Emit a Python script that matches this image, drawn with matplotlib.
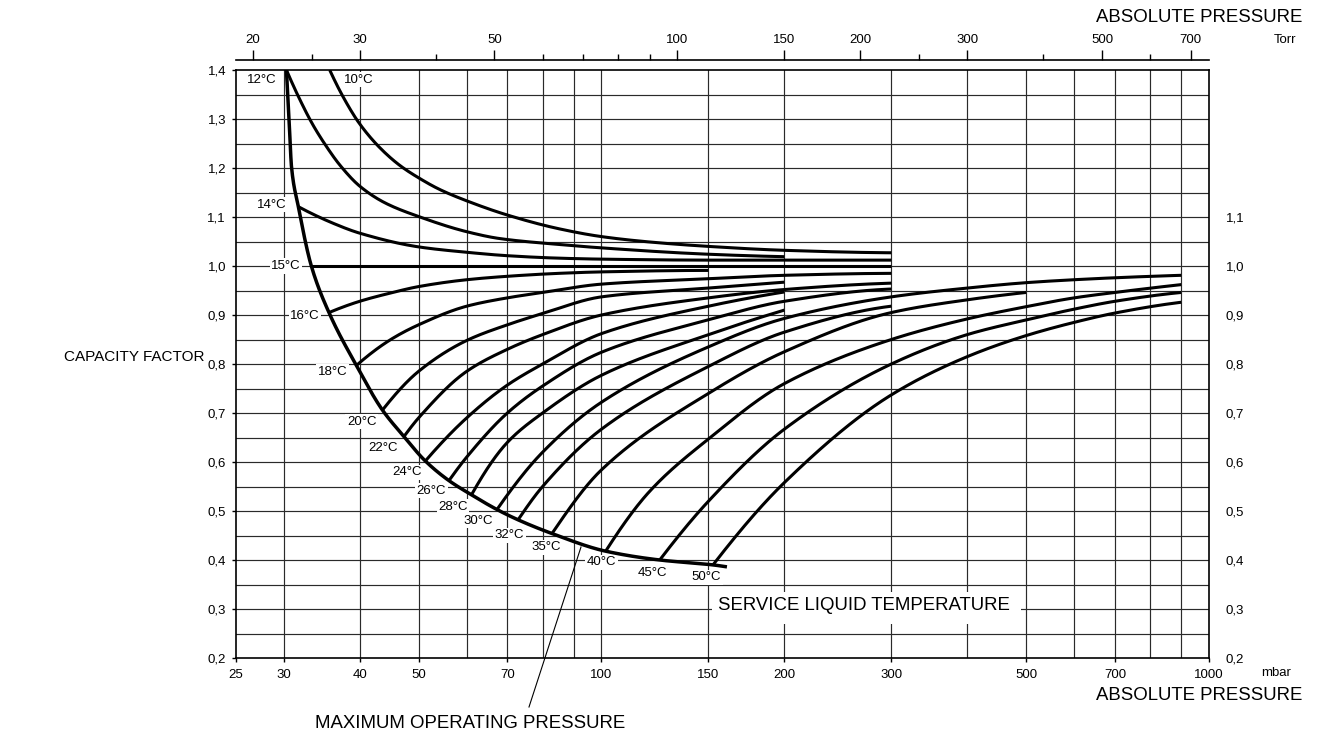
import numpy as np
import matplotlib
matplotlib.use("Agg")
import matplotlib.pyplot as plt
from matplotlib.lines import Line2D
from matplotlib.patches import Rectangle

plt.rcParams['font.family'] = ['Liberation Sans', 'DejaVu Sans']

# ---------------- data ----------------
x_ticks_mbar = [25, 30, 40, 50, 70, 100, 150, 200, 300, 500, 700, 1000]
x_grid_mbar = [30, 40, 50, 60, 70, 80, 90, 100, 150, 200, 300, 400, 500, 600, 700, 800, 900]
torr_major = [20, 30, 50, 100, 150, 200, 300, 500, 700]
torr_minor = [25, 40, 60, 70, 80, 90, 250, 400, 600]
y_ticks_left = [0.2, 0.3, 0.4, 0.5, 0.6, 0.7, 0.8, 0.9, 1.0, 1.1, 1.2, 1.3, 1.4]
y_ticks_right = [0.2, 0.3, 0.4, 0.5, 0.6, 0.7, 0.8, 0.9, 1.0, 1.1]

# maximum operating pressure boundary
bound_p = [30.3, 30.6, 30.9, 31.7, 33.3, 35.6, 39.5, 43.6, 47.3, 51.3, 56.1, 61.1, 67.3, 72.9, 82.9, 101.6, 124.7, 152.6, 160.9]
bound_f = [1.40, 1.30, 1.20, 1.121, 1.0, 0.905, 0.797, 0.706, 0.652, 0.602, 0.562, 0.533, 0.503, 0.482, 0.454, 0.418, 0.400, 0.390, 0.386]

# service liquid temperature curves (pressure mbar, capacity factor)
p_10 = [35.7, 37.8, 40, 43.2, 46.6, 50, 54.2, 60, 70, 85.1, 100, 120, 150, 200, 300]
f_10 = [1.40, 1.339, 1.290, 1.241, 1.205, 1.180, 1.156, 1.133, 1.104, 1.076, 1.060, 1.049, 1.040, 1.032, 1.027]
p_12 = [30.3, 31.9, 33.5, 35.3, 37.1, 40, 44, 50, 60, 68, 85, 100, 150, 200]
f_12 = [1.40, 1.339, 1.288, 1.243, 1.206, 1.163, 1.129, 1.101, 1.070, 1.056, 1.044, 1.037, 1.024, 1.019]
p_14 = [31.7, 36.2, 40, 50, 60, 70, 85, 100, 150, 200, 300]
f_14 = [1.121, 1.087, 1.067, 1.039, 1.028, 1.021, 1.016, 1.014, 1.012, 1.012, 1.012]
p_15 = [33.3, 300]
f_15 = [1.0, 1.0]
p_16 = [35.6, 40, 45, 50, 60, 70, 85, 100, 150]
f_16 = [0.905, 0.928, 0.945, 0.958, 0.972, 0.979, 0.985, 0.988, 0.991]
p_18 = [39.5, 45, 50, 60, 70, 80, 100, 150, 200, 300]
f_18 = [0.797, 0.85, 0.88, 0.918, 0.935, 0.946, 0.963, 0.974, 0.981, 0.985]
p_20 = [43.6, 50, 60, 70, 80, 100, 150, 200]
f_20 = [0.706, 0.785, 0.848, 0.88, 0.903, 0.937, 0.955, 0.967]
p_22 = [47.3, 50, 60, 70, 80, 100, 150, 200, 300]
f_22 = [0.652, 0.69, 0.785, 0.83, 0.86, 0.90, 0.935, 0.952, 0.965]
p_24 = [51.3, 60, 70, 80, 100, 150, 200]
f_24 = [0.602, 0.69, 0.757, 0.80, 0.862, 0.918, 0.947]
p_26 = [56.1, 60, 70, 80, 100, 150, 200, 300]
f_26 = [0.562, 0.61, 0.70, 0.755, 0.824, 0.89, 0.928, 0.953]
p_28 = [61.1, 70, 80, 100, 150, 200]
f_28 = [0.533, 0.64, 0.70, 0.777, 0.86, 0.91]
p_30 = [67.3, 80, 100, 150, 200, 300, 400, 500, 600, 700, 900]
f_30 = [0.503, 0.62, 0.722, 0.835, 0.893, 0.937, 0.955, 0.966, 0.972, 0.976, 0.981]
p_32 = [72.9, 80, 100, 150, 200, 300]
f_32 = [0.482, 0.55, 0.667, 0.795, 0.865, 0.918]
p_35 = [82.9, 100, 150, 200, 300, 400, 500]
f_35 = [0.454, 0.584, 0.74, 0.825, 0.905, 0.931, 0.946]
p_40 = [101.6, 120, 150, 200, 300, 400, 500, 600, 700, 900]
f_40 = [0.418, 0.54, 0.647, 0.76, 0.85, 0.892, 0.917, 0.935, 0.946, 0.962]
p_45 = [124.7, 150, 200, 300, 400, 500, 600, 700, 900]
f_45 = [0.40, 0.52, 0.667, 0.80, 0.86, 0.89, 0.912, 0.928, 0.946]
p_50 = [152.6, 200, 300, 400, 500, 600, 700, 900]
f_50 = [0.39, 0.558, 0.737, 0.815, 0.858, 0.885, 0.904, 0.926]

temps = [10, 12, 14, 15, 16, 18, 20, 22, 24, 26, 28, 30, 32, 35, 40, 45, 50]
curves = [p_10, p_12, p_14, p_15, p_16, p_18, p_20, p_22, p_24, p_26, p_28, p_30, p_32, p_35, p_40, p_45, p_50]
factors = [f_10, f_12, f_14, f_15, f_16, f_18, f_20, f_22, f_24, f_26, f_28, f_30, f_32, f_35, f_40, f_45, f_50]

# ---------------- layout ----------------
label_pos = [(39.9, 1.38), (27.6, 1.38), (28.65, 1.125), (30.25, 1.0), (32.5, 0.897), (36.1, 0.784),
             (40.3, 0.682), (43.7, 0.628), (47.9, 0.579), (52.5, 0.541), (57.0, 0.509), (62.7, 0.480),
             (70.6, 0.450), (81.0, 0.426), (100.0, 0.395), (121.3, 0.374), (148.8, 0.365)]

W, H = 1319, 733
L, R, B, T = 235.7, 1209.0, 658.0, 70.0
BIG = 13.4
SMALL = 9.5


def fx(px):
    return px / W


def fy(py):
    return 1 - py / H


def pchip(x, y, xs):
    x = np.asarray(x, float)
    y = np.asarray(y, float)
    n = len(x)
    if n == 2:
        return np.interp(xs, x, y)
    h = np.diff(x)
    d = np.diff(y) / h
    m = np.zeros(n)
    for k in range(1, n - 1):
        if d[k - 1] * d[k] > 0:
            w1 = 2 * h[k] + h[k - 1]
            w2 = h[k] + 2 * h[k - 1]
            m[k] = (w1 + w2) / (w1 / d[k - 1] + w2 / d[k])
    m0 = ((2 * h[0] + h[1]) * d[0] - h[0] * d[1]) / (h[0] + h[1])
    if np.sign(m0) != np.sign(d[0]):
        m0 = 0
    elif np.sign(d[0]) != np.sign(d[1]) and abs(m0) > abs(3 * d[0]):
        m0 = 3 * d[0]
    m[0] = m0
    mn = ((2 * h[-1] + h[-2]) * d[-1] - h[-1] * d[-2]) / (h[-1] + h[-2])
    if np.sign(mn) != np.sign(d[-1]):
        mn = 0
    elif np.sign(d[-1]) != np.sign(d[-2]) and abs(mn) > abs(3 * d[-1]):
        mn = 3 * d[-1]
    m[-1] = mn
    idx = np.clip(np.searchsorted(x, xs) - 1, 0, n - 2)
    t = (xs - x[idx]) / h[idx]
    h00 = 2 * t**3 - 3 * t**2 + 1
    h10 = t**3 - 2 * t**2 + t
    h01 = -2 * t**3 + 3 * t**2
    h11 = t**3 - t**2
    return h00 * y[idx] + h10 * h[idx] * m[idx] + h01 * y[idx + 1] + h11 * h[idx] * m[idx + 1]


def smooth(p, f, n=400):
    lx = np.log10(p)
    xs = np.linspace(lx[0], lx[-1], n)
    return 10 ** xs, pchip(lx, f, xs)


fig = plt.figure(figsize=(W / 100, H / 100), dpi=100)
ax = fig.add_axes([fx(L), fy(B), (R - L) / W, (B - T) / H])
ax.set_xscale('log')
ax.set_xlim(25, 1000)
ax.set_ylim(0.2, 1.4)

grid_kw = dict(color='#2a2a2a', lw=0.85, zorder=1)
for p in x_grid_mbar:
    ax.axvline(p, **grid_kw)
for v in np.arange(0.25, 1.36, 0.05):
    ax.axhline(v, **grid_kw)

for s in ax.spines.values():
    s.set_linewidth(1.2)
    s.set_zorder(5)

ax.set_xticks(x_ticks_mbar)
ax.set_xticklabels([str(v) for v in x_ticks_mbar])
ax.xaxis.set_minor_locator(matplotlib.ticker.NullLocator())
ax.set_yticks(y_ticks_left)
ax.set_yticklabels([f"{v:.1f}".replace('.', ',') for v in y_ticks_left])
ax.tick_params(axis='both', which='major', direction='out', length=3, width=1, labelsize=SMALL, color='black')
ax.tick_params(axis='x', pad=4.8)
ax.tick_params(axis='y', pad=4)

sec = ax.secondary_yaxis('right')
sec.set_yticks(y_ticks_right)
sec.set_yticklabels([f"{v:.1f}".replace('.', ',') for v in y_ticks_right])
sec.tick_params(length=0, pad=12, labelsize=SMALL)
sec.spines['right'].set_visible(False)

# top Torr axis
axt = fig.add_axes([fx(L), fy(60.3), (R - L) / W, 0.0001])
axt.set_xscale('log')
axt.set_xlim(25, 1000)
axt.set_yticks([])
for k in ['left', 'right', 'top']:
    axt.spines[k].set_visible(False)
axt.spines['bottom'].set_linewidth(1.2)
axt.patch.set_visible(False)
axt.set_xticks([t * 1.33322 for t in torr_major])
axt.set_xticklabels([str(t) for t in torr_major])
axt.set_xticks([t * 1.33322 for t in torr_minor], minor=True)
axt.xaxis.set_minor_formatter(matplotlib.ticker.NullFormatter())
axt.tick_params(axis='x', which='both', bottom=False, top=True, labelbottom=False, labeltop=True,
                direction='out', labelsize=SMALL, width=1)
axt.tick_params(axis='x', which='major', length=7.5, pad=3)
axt.tick_params(axis='x', which='minor', length=4)

# boundary curve
bx, by = smooth(bound_p, bound_f, 800)
ax.plot(bx, by, color='black', lw=2.5, zorder=4, solid_capstyle='butt')

# temperature curves
for t, p, f, (lx, ly) in zip(temps, curves, factors, label_pos):
    cx, cy = smooth(p, f)
    ax.plot(cx, cy, color='black', lw=2.2, zorder=4, solid_capstyle='butt')
    ax.text(lx, ly, f"{t}°C", fontsize=SMALL, ha='center', va='center', zorder=3,
            bbox=dict(boxstyle='square,pad=0.12', fc='white', ec='none'))

# service liquid temperature label
ax.add_patch(Rectangle((151.8, 0.2694), 490 - 151.8, 0.3347 - 0.2694, fc='white', ec='none', zorder=2))
ax.text(270, 0.308, "SERVICE LIQUID TEMPERATURE", fontsize=BIG, ha='center', va='center', zorder=3)

# figure texts
fig.text(fx(1302), fy(17), "ABSOLUTE PRESSURE", fontsize=BIG, ha='right', va='center')
fig.text(fx(1285), fy(40), "Torr", fontsize=SMALL, ha='center', va='center')
fig.text(fx(1276), fy(673), "mbar", fontsize=SMALL, ha='center', va='center')
fig.text(fx(1302), fy(696), "ABSOLUTE PRESSURE", fontsize=BIG, ha='right', va='center')
fig.text(fx(205), fy(357), "CAPACITY FACTOR", fontsize=11, ha='right', va='center')
fig.text(fx(470), fy(723), "MAXIMUM OPERATING PRESSURE", fontsize=BIG, ha='center', va='center')
fig.add_artist(Line2D([fx(529), fx(581)], [fy(707), fy(547)], transform=fig.transFigure,
                      color='black', lw=0.8))

fig.savefig("out.png", dpi=100)
